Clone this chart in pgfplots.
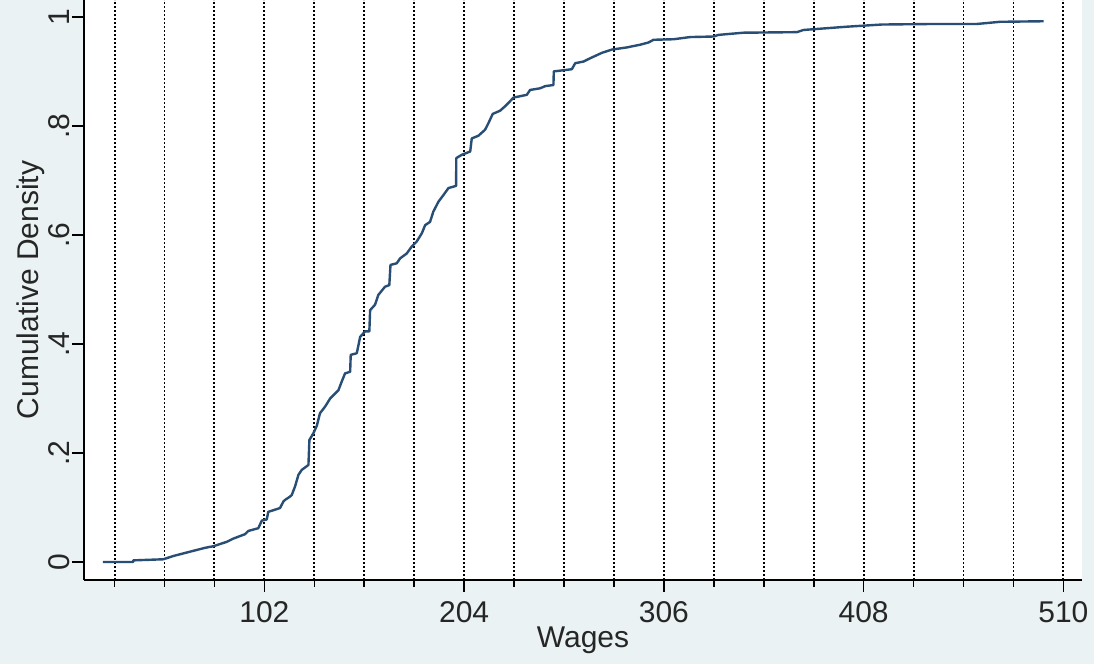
\documentclass[border=0pt]{standalone}
\usepackage{pgfplots}
\pgfplotsset{compat=1.18}
\usepackage{fontspec}
\setmainfont{Liberation Sans}
\definecolor{bgcol}{RGB}{234,242,243}
\definecolor{navy}{RGB}{40,78,118}
\begin{document}
\begin{tikzpicture}
\fill[bgcol] (0,0) rectangle (547pt,332pt);
\useasboundingbox (0,0) rectangle (547pt,332pt);
\begin{axis}[
  at={(42pt,42pt)}, anchor=south west,
  width=499pt, height=290pt, scale only axis,
  xmin=9.9, xmax=519.5, ymin=-0.033, ymax=1.031,
  axis x line*=bottom, axis y line*=left,
  axis line style={black, line width=0.9pt},
  axis background/.style={fill=white},
  xtick={102,204,306,408,510},
  minor xtick={25.5,51,76.5,127.5,153,178.5,229.5,255,280.5,331.5,357,382.5,433.5,459,484.5},
  ytick={0,0.2,0.4,0.6,0.8,1},
  yticklabels={0,.2,.4,.6,.8,1},
  xticklabels={102,204,306,408,510},
  tick align=outside,
  major tick length=6pt, minor tick length=3.5pt,
  tick style={black, line width=0.8pt},
  xmajorgrids, xminorgrids,
  major grid style={black, line width=0.95pt, dash pattern=on 0.9pt off 1.1pt},
  minor grid style={black, line width=0.95pt, dash pattern=on 0.9pt off 1.1pt},
  ticklabel style={font=\fontsize{15}{15}\selectfont, text=black!85},
  yticklabel style={rotate=90, anchor=south, yshift=-2.5pt},
  xticklabel style={yshift=-1pt},
  /pgf/number format/assume math mode=true,
  xlabel={Wages}, ylabel={Cumulative Density},
  label style={font=\fontsize{15}{15}\selectfont, text=black!85},
  xlabel style={yshift=4.5pt},
  ylabel style={yshift=-5pt},
  clip=false,
]
\addplot[navy, line width=1.2pt, line join=round] coordinates {
(19.5,0) (35,0) (35.1,0.003) (50.4,0.005) (55.5,0.011) (64.1,0.019) (71.7,0.026)
(76,0.029) (82.8,0.037) (86.2,0.043) (92.1,0.051) (93.8,0.057) (98.9,0.062)
(100.7,0.076) (103.2,0.078) (104,0.092) (110,0.099) (111.7,0.111) (112.6,0.114)
(115.1,0.12) (116,0.123) (117.7,0.139) (119.4,0.16) (121.1,0.169) (124.5,0.178)
(125,0.224) (127,0.236) (128.8,0.25) (130.4,0.273) (133,0.285) (135.6,0.30)
(139.8,0.315) (141.5,0.331) (143.2,0.346) (145.8,0.349) (146.1,0.38) (149.2,0.383)
(150.9,0.413) (153.4,0.423) (155.6,0.423) (156,0.462) (158.5,0.472) (160.2,0.49)
(163.6,0.505) (165.8,0.508) (166.4,0.545) (169.6,0.548) (171.3,0.557) (174.7,0.566)
(177.3,0.579) (179.8,0.588) (182.4,0.603) (184.1,0.618) (186.6,0.624) (188.3,0.643)
(190.9,0.661) (193.4,0.673) (196,0.686) (199.9,0.69) (200,0.741) (202.8,0.747)
(207.1,0.753) (207.9,0.777) (211.3,0.782) (214.7,0.793) (216.4,0.805) (218.6,0.822)
(222.4,0.828) (224.9,0.836) (226.6,0.842) (229.2,0.852) (236,0.857) (237.7,0.866)
(242.8,0.869) (245.4,0.873) (249.6,0.875) (249.8,0.90) (259,0.904) (260.7,0.915)
(264.9,0.918) (268.3,0.924) (274.3,0.934) (279.4,0.94) (287.1,0.944) (293.9,0.949)
(298.1,0.953) (300.7,0.958) (310.9,0.959) (319.4,0.963) (331.3,0.964) (333.9,0.967)
(346.6,0.971) (373.9,0.972) (377.3,0.976) (399.4,0.982) (417.3,0.986) (443.7,0.987)
(465.8,0.987) (477.7,0.991) (499.9,0.992)
};
\end{axis}
\end{tikzpicture}
\end{document}
